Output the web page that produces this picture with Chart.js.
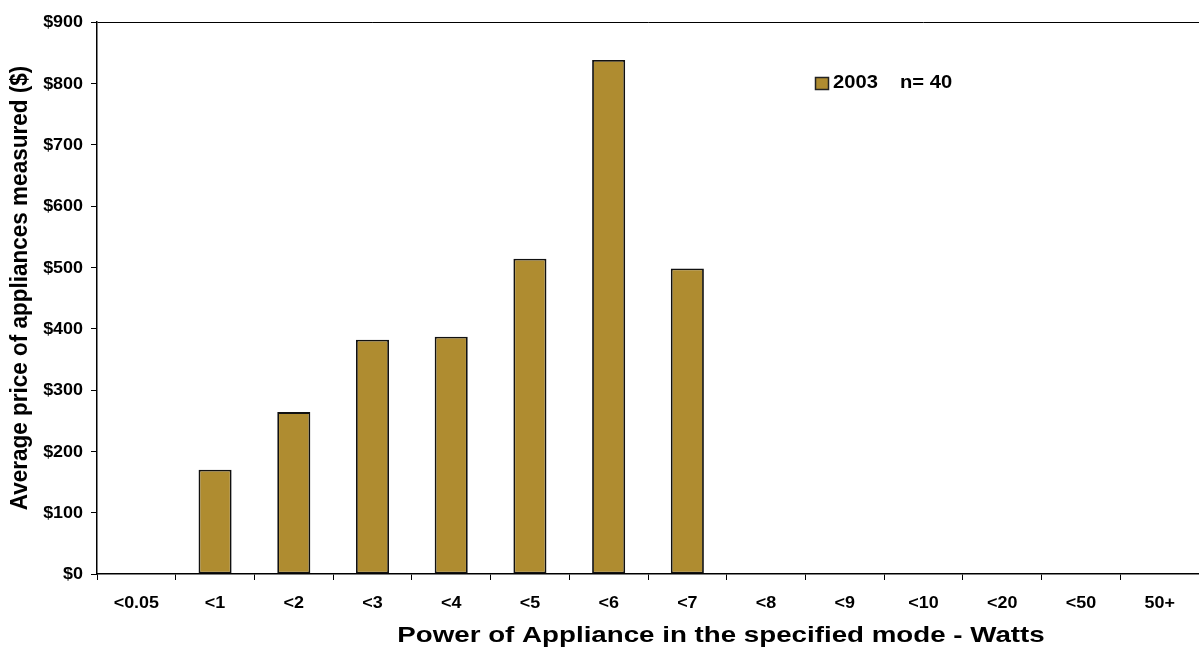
<!DOCTYPE html>
<html>
<head>
<meta charset="utf-8">
<script src="https://cdn.jsdelivr.net/npm/chart.js@4/dist/chart.umd.min.js"></script>
<style>
  html, body { margin: 0; padding: 0; background: #fff; }
  #wrap { width: 1199px; height: 648px; position: relative; }
</style>
</head>
<body>
<div id="wrap"><canvas id="myChart"></canvas></div>
<script>
var categories = ['<0.05', '<1', '<2', '<3', '<4', '<5', '<6', '<7', '<8', '<9', '<10', '<20', '<50', '50+'];
var avgPrice2003 = [null, 170, 264, 382, 387, 514, 838, 498, null, null, null, null, null, null];
var seriesLabel = '2003';
var sampleNote = 'n= 40';
var yTicks = [0, 100, 200, 300, 400, 500, 600, 700, 800, 900];
var xTitle = 'Power of Appliance in the specified mode - Watts';
var yTitle = 'Average price of appliances measured ($)';

var barColor = '#AF8C30';
var font = 'Liberation Sans, Arial, sans-serif';

// the original text is a bit wide, so draw it stretched sideways
function wideText(ctx, text, x, y, size, stretch, align, rotate) {
    ctx.save();
    ctx.translate(x, y);
    ctx.scale(stretch, 1);
    if (rotate) ctx.rotate(-Math.PI / 2);
    ctx.font = 'bold ' + size + 'px ' + font;
    ctx.fillStyle = '#000';
    ctx.textAlign = align;
    ctx.textBaseline = 'middle';
    ctx.fillText(text, 0, 0);
    ctx.restore();
}

// labels, titles and the little legend, all drawn by hand
var textLayer = {
    id: 'textLayer',
    afterDraw(chart) {
        var ctx = chart.ctx;
        var xs = chart.scales.x, ys = chart.scales.y;
        yTicks.forEach(function (v) {
            wideText(ctx, '$' + v, 83, ys.getPixelForValue(v) + 1, 16, 1.12, 'right');
        });
        categories.forEach(function (c, i) {
            wideText(ctx, c, xs.getPixelForValue(i), 604, 16, 1.12, 'center');
        });
        wideText(ctx, xTitle, 721, 636, 22, 1.26, 'center');
        wideText(ctx, yTitle, 21, 288, 22.5, 1.04, 'center', true);

        var x = 815, y = 83;
        ctx.save();
        ctx.fillStyle = barColor;
        ctx.fillRect(x, y - 6, 14, 13);
        ctx.strokeStyle = '#222';
        ctx.lineWidth = 1.5;
        ctx.strokeRect(x + 0.5, y - 5.5, 13, 12);
        ctx.restore();
        wideText(ctx, seriesLabel, x + 18, y, 18, 1.12, 'left');
        wideText(ctx, sampleNote, x + 85, y, 18, 1.12, 'left');
    }
};

var ctx = document.getElementById('myChart').getContext('2d');
var myChart = new Chart(ctx, {
    type: 'bar',
    data: {
        labels: categories,
        datasets: [
            {
                label: seriesLabel,
                backgroundColor: barColor,
                borderColor: '#111',
                borderWidth: 1.8,
                borderSkipped: false,
                barPercentage: 0.42,
                categoryPercentage: 1,
                data: avgPrice2003
            }
        ]
    },
    options: {
        responsive: true,
        maintainAspectRatio: false,
        animation: false,
        layout: { padding: { top: 22, right: 0, left: 91, bottom: 68 } },
        plugins: {
            legend: { display: false },
            tooltip: { enabled: false }
        },
        scales: {
            x: {
                offset: true,
                grid: {
                    offset: true,
                    drawOnChartArea: false,
                    color: '#000',
                    tickLength: 6
                },
                border: { color: '#000', width: 1.5 },
                ticks: { display: false, autoSkip: false }
            },
            y: {
                min: 0,
                max: 900,
                afterBuildTicks(axis) {
                    axis.ticks = yTicks.map(function (v) { return { value: v }; });
                },
                grid: {
                    color: function (c) { return c.tick && c.tick.value === 900 ? '#000' : 'rgba(0,0,0,0)'; },
                    tickColor: '#000',
                    tickLength: 6
                },
                border: { color: '#000', width: 1.5 },
                ticks: { display: false }
            }
        }
    },
    plugins: [textLayer]
});
</script>
</body>
</html>
